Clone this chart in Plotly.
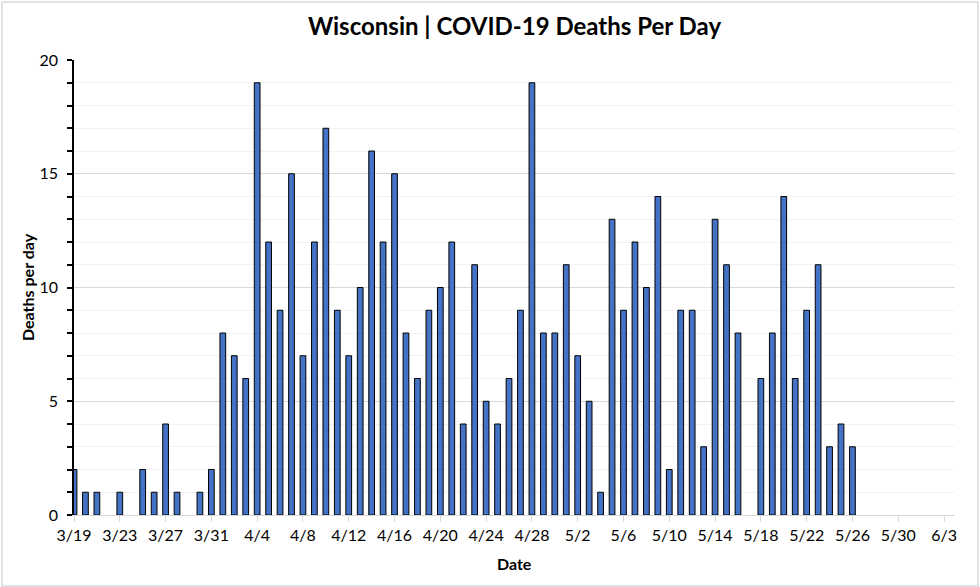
import plotly.graph_objects as go
import pandas as pd

start_date = "2020-03-19"
deaths = [2, 1, 1, 0, 1, 0, 2, 1, 4, 1, 0, 1, 2,
          8, 7, 6, 19, 12, 9, 15, 7, 12, 17, 9, 7, 10, 16, 12, 15, 8, 6, 9, 10, 12, 4, 11,
          5, 4, 6, 9, 19, 8, 8,
          11, 7, 5, 1, 13, 9, 12, 10, 14, 2, 9, 9, 3, 13, 11, 8, 0, 6, 8, 14, 6, 9, 11, 3, 4, 3]
dates = pd.date_range(start_date, periods=len(deaths), freq="D")
y_vals = [v if v > 0 else None for v in deaths]

title_text = "Wisconsin | COVID-19 Deaths Per Day"
x_title = "Date"
y_title = "Deaths per day"
y_tickvals = [0, 5, 10, 15, 20]

FONT = "Lato"
DAY_MS = 86400000
L, R, T, B = 74, 25, 60, 72
W, H = 980, 587
PW, PH = W - L - R, H - T - B

fig = go.Figure()
fig.add_trace(go.Bar(
    x=dates, y=y_vals,
    width=DAY_MS * 0.5,
    marker=dict(color="#4472C4", line=dict(color="#000000", width=1)),
    hoverinfo="x+y",
))

fig.update_layout(
    width=W, height=H,
    margin=dict(l=L, r=R, t=T, b=B, autoexpand=False),
    paper_bgcolor="white", plot_bgcolor="white",
    showlegend=False,
    title=dict(text="<b>" + title_text + "</b>", x=0.5, xanchor="center",
               xref="paper",
               y=1 - 27 / H, yanchor="middle", yref="container",
               font=dict(family=FONT, size=24, color="#000000")),
    font=dict(family=FONT, size=15, color="#000000"),
    bargap=0.5,
)

fig.update_xaxes(
    type="date",
    range=["2020-03-19 00:00", "2020-06-03 23:00"],
    tick0=start_date, dtick=4 * DAY_MS,
    tickformat="%-m/%-d",
    ticks="outside", ticklen=6, tickcolor="#d9d9d9", tickwidth=1,
    showline=True, linecolor="#d9d9d9", linewidth=1,
    showgrid=False, zeroline=False,
    automargin=False,
    tickfont=dict(family=FONT, size=16, color="#000000"),
)

fig.update_yaxes(
    range=[0, 20],
    tickvals=y_tickvals,
    ticks="outside", ticklen=5, tickcolor="#000000", tickwidth=1.5,
    showline=True, linecolor="#000000", linewidth=1.5,
    showgrid=True, gridcolor="#d9d9d9", gridwidth=1,
    zeroline=False,
    automargin=False,
    ticklabelstandoff=6,
    minor=dict(dtick=1, showgrid=True, gridcolor="#f2f2f2", gridwidth=1,
               ticks="outside", ticklen=5, tickcolor="#000000", tickwidth=1.5),
    tickfont=dict(family=FONT, size=16, color="#000000"),
)

# axis titles as annotations
fig.add_annotation(text="<b>" + x_title + "</b>", xref="paper", yref="paper",
                   x=0.5, y=-(563 - (H - B)) / PH, xanchor="center", yanchor="middle",
                   showarrow=False, font=dict(family=FONT, size=16, color="#000000"))
fig.add_annotation(text="<b>" + y_title + "</b>", xref="paper", yref="paper",
                   x=(27 - L) / PW, y=(H - B - 287) / PH, xanchor="center", yanchor="middle",
                   textangle=-90,
                   showarrow=False, font=dict(family=FONT, size=16, color="#000000"))

# outer chart border
fig.add_shape(type="rect", xref="paper", yref="paper",
              x0=-(L - 2) / PW, x1=1 + (R - 2) / PW, y0=-(B - 1) / PH, y1=1 + (T - 2) / PH,
              line=dict(color="#d9d9d9", width=1.5), fillcolor="rgba(0,0,0,0)", layer="below")

fig.write_html("out.html",
               config={"displayModeBar": False},
               post_script="document.body.style.margin='0';document.body.style.padding='0';")
